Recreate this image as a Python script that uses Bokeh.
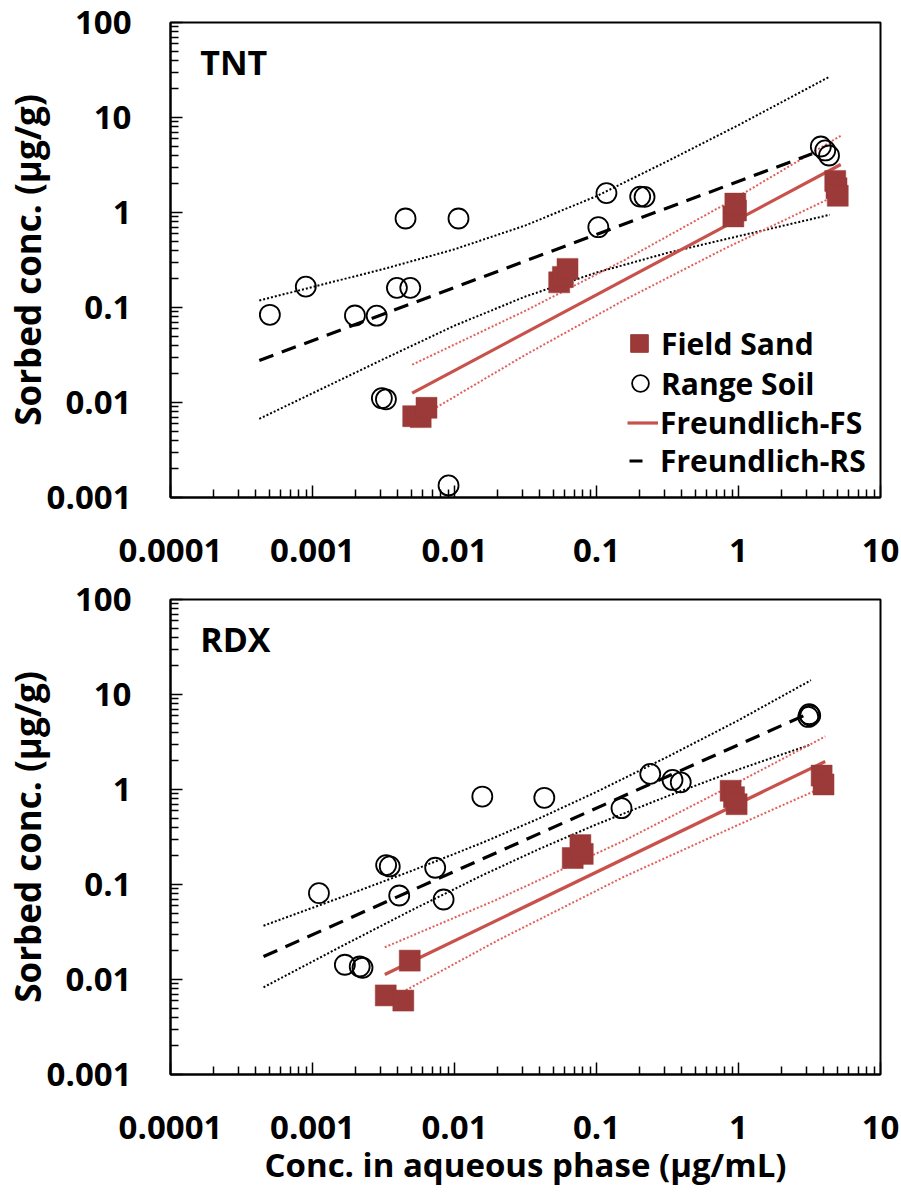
from bokeh.plotting import figure
from bokeh.layouts import column
from bokeh.models import FixedTicker, CustomJSTickFormatter, Legend, LegendItem, Label
from bokeh.embed import file_html
from bokeh.resources import INLINE

# ---------------- data ----------------
x_tick_values = [0.0001, 0.001, 0.01, 0.1, 1, 10]
x_tick_labels = ["0.0001", "0.001", "0.01", "0.1", "1", "10"]
y_tick_values = [0.001, 0.01, 0.1, 1, 10, 100]
y_tick_labels = ["0.001", "0.01", "0.1", "1", "10", "100"]

# TNT panel
tnt_fs_x = [0.00512, 0.00578, 0.00635, 0.0546, 0.058, 0.0625, 0.92, 0.96, 0.95, 4.8, 4.9, 5.0]
tnt_fs_y = [0.00718, 0.00702, 0.00879, 0.184, 0.21, 0.255, 0.91, 1.05, 1.24, 2.15, 1.8, 1.5]
tnt_rs_x = [0.000501, 0.000897, 0.00199, 0.00283, 0.00393, 0.00488, 0.00452, 0.01067, 0.00308,
            0.00329, 0.00908, 0.103, 0.1175, 0.203, 0.218, 3.80, 4.08, 4.34]
tnt_rs_y = [0.0838, 0.166, 0.0824, 0.082, 0.161, 0.161, 0.865, 0.865, 0.0111,
            0.0108, 0.00134, 0.70, 1.60, 1.47, 1.46, 4.95, 4.5, 3.98]
tnt_fs_fit_x = [0.00503, 5.25]
tnt_fs_fit_y = [0.01253, 3.20]
tnt_fs_band_x = [0.005035, 0.03162, 0.1585, 0.7943, 5.248]
tnt_fs_up_y = [0.025, 0.0925, 0.3177, 1.208, 6.412]
tnt_fs_lo_y = [0.00628, 0.03177, 0.1208, 0.4150, 1.596]
tnt_rs_fit_x = [0.000422, 3.3]
tnt_rs_fit_y = [0.0277, 4.15]
tnt_rs_band_x = [0.000422, 0.00316, 0.01, 0.0316, 0.1, 0.316, 1.0, 4.4]
tnt_rs_up_y = [0.1186, 0.254, 0.410, 0.731, 1.486, 3.47, 8.32, 27.0]
tnt_rs_lo_y = [0.00673, 0.0286, 0.0644, 0.1306, 0.2333, 0.3758, 0.5636, 0.946]

# RDX panel
rdx_fs_x = [0.00328, 0.00436, 0.00484, 0.068, 0.080, 0.077, 0.88, 0.93, 0.97, 3.85, 3.97]
rdx_fs_y = [0.0068, 0.0060, 0.0158, 0.19, 0.21, 0.26, 0.97, 0.83, 0.70, 1.40, 1.13]
rdx_rs_x = [0.00111, 0.00330, 0.00350, 0.00731, 0.00408, 0.00838, 0.00169, 0.00215, 0.00225,
            0.0157, 0.0429, 0.150, 0.239, 0.343, 0.392, 3.10, 3.20, 3.15]
rdx_rs_y = [0.0811, 0.160, 0.155, 0.150, 0.0766, 0.0695, 0.0143, 0.0137, 0.0133,
            0.843, 0.818, 0.636, 1.46, 1.26, 1.19, 5.8, 6.0, 6.2]
rdx_fs_fit_x = [0.00323, 4.08]
rdx_fs_fit_y = [0.0113, 1.97]
rdx_fs_band_x = [0.003228, 0.01995, 0.1585, 1.0, 4.083]
rdx_fs_up_y = [0.02183, 0.0695, 0.2924, 1.199, 3.614]
rdx_fs_lo_y = [0.00585, 0.0256, 0.1219, 0.4256, 1.081]
rdx_rs_fit_x = [0.000452, 3.15]
rdx_rs_fit_y = [0.01745, 6.35]
rdx_rs_band_x = [0.000452, 0.001585, 0.005012, 0.01585, 0.03981, 0.1, 0.3162, 1.0, 3.236]
rdx_rs_up_y = [0.0368, 0.0731, 0.1396, 0.2767, 0.499, 0.944, 2.208, 5.358, 14.13]
rdx_rs_lo_y = [0.00828, 0.0222, 0.0538, 0.1259, 0.2377, 0.4295, 0.851, 1.626, 2.979]

legend_labels = ["Field Sand", "Range Soil", "Freundlich-FS", "Freundlich-RS"]
x_title = "Conc. in aqueous phase (µg/mL)"
y_title = "Sorbed conc. (µg/g)"

# ---------------- style ----------------
FONT = "Open Sans"
SQ = "#9B3A38"
RED = "#C9514C"
RED_DOT = "#E0605A"
NAN = float("nan")

x_minor = [m * 10.0 ** k for k in range(-4, 1) for m in range(2, 10)]
y_minor = [m * 10.0 ** k for k in range(-3, 2) for m in range(2, 10)]

FMT_CODE = """
let best = 0, bd = Infinity;
for (let i = 0; i < vals.length; i++) {
  const d = Math.abs(Math.log10(tick) - Math.log10(vals[i]));
  if (d < bd) { bd = d; best = i; }
}
return labs[best];
"""


def style_axis(ax):
    ax.axis_line_color = "black"
    ax.axis_line_width = 2
    ax.major_tick_in = 12
    ax.major_tick_out = 0
    ax.minor_tick_in = 8
    ax.minor_tick_out = 0
    ax.major_tick_line_color = "black"
    ax.minor_tick_line_color = "black"
    ax.major_tick_line_width = 1.5
    ax.minor_tick_line_width = 1.5
    ax.major_label_text_font = FONT
    ax.major_label_text_font_size = "33px"
    ax.major_label_text_font_style = "bold"
    ax.major_label_text_color = "black"
    ax.axis_label_text_font = FONT
    ax.axis_label_text_font_style = "bold"
    ax.axis_label_text_color = "black"


def one_legend(p, label, renderer, loc, gw, gh, standoff):
    leg = Legend(items=[LegendItem(label=label, renderers=[renderer])],
                 location=loc, orientation="vertical",
                 glyph_width=gw, glyph_height=gh, spacing=0, label_standoff=standoff,
                 padding=0, margin=0, border_line_color=None, background_fill_alpha=0,
                 label_text_font=FONT, label_text_font_size="30px", label_text_font_style="bold",
                 label_text_color="black", label_text_baseline="middle")
    p.add_layout(leg)


def make_panel(name, d, top, bottom, with_legend, with_xtitle):
    p = figure(frame_width=710, frame_height=475,
               x_axis_type="log", y_axis_type="log",
               x_range=(1e-4, 10), y_range=(1e-3, 100),
               min_border_left=168, min_border_right=22,
               min_border_top=top, min_border_bottom=bottom,
               output_backend="svg", toolbar_location=None)
    p.grid.visible = False
    p.outline_line_color = "black"
    p.outline_line_width = 2
    p.outline_line_alpha = 1
    p.background_fill_color = "white"
    p.border_fill_color = "white"

    xa, ya = p.xaxis[0], p.yaxis[0]
    xa.ticker = FixedTicker(ticks=x_tick_values, minor_ticks=x_minor)
    ya.ticker = FixedTicker(ticks=y_tick_values, minor_ticks=y_minor)
    xa.formatter = CustomJSTickFormatter(args=dict(vals=x_tick_values, labs=x_tick_labels), code=FMT_CODE)
    ya.formatter = CustomJSTickFormatter(args=dict(vals=y_tick_values, labs=y_tick_labels), code=FMT_CODE)
    style_axis(xa)
    style_axis(ya)
    xa.major_label_standoff = 41
    ya.major_label_standoff = 39
    ya.axis_label = y_title
    ya.axis_label_text_font_size = "35px"
    ya.axis_label_standoff = -7
    if with_xtitle:
        xa.axis_label = x_title
        xa.axis_label_text_font_size = "33px"
        xa.axis_label_standoff = 0

    # confidence bands
    p.line(d["rs_band_x"], d["rs_up_y"], line_color="black", line_width=2, line_dash="2 2")
    p.line(d["rs_band_x"], d["rs_lo_y"], line_color="black", line_width=2, line_dash="2 2")
    p.line(d["fs_band_x"], d["fs_up_y"], line_color=RED_DOT, line_width=2, line_dash="2 2")
    p.line(d["fs_band_x"], d["fs_lo_y"], line_color=RED_DOT, line_width=2, line_dash="2 2")
    # fits
    p.line(d["rs_fit_x"], d["rs_fit_y"], line_color="black", line_width=3.2, line_dash="15 9")
    p.line(d["fs_fit_x"], d["fs_fit_y"], line_color=RED, line_width=3.2)
    # data
    p.scatter(d["fs_x"], d["fs_y"], marker="square", size=21, fill_color=SQ, line_color=SQ, line_width=0.5)
    p.scatter(d["rs_x"], d["rs_y"], marker="circle", size=20, fill_color=None, line_color="black", line_width=1.8)

    p.add_layout(Label(x=1.62e-4, y=38.4, text=name, text_font=FONT, text_font_size="34px",
                       text_font_style="bold", text_color="black", text_baseline="alphabetic"))

    if with_legend:
        g1 = p.scatter([NAN], [NAN], marker="square", fill_color=SQ, line_color=SQ)
        g2 = p.scatter([NAN], [NAN], marker="circle", fill_color=None, line_color="black", line_width=1.8)
        g3 = p.line([NAN], [NAN], line_color=RED, line_width=3.2)
        g4 = p.line([NAN], [NAN], line_color="black", line_width=3.2, line_dash="0 2 13 40")
        one_legend(p, legend_labels[0], g1, (447, 132), 44, 44, 0)
        one_legend(p, legend_labels[1], g2, (449, 93), 42, 42, 0)
        one_legend(p, legend_labels[2], g3, (457, 54), 31, 39, 2)
        one_legend(p, legend_labels[3], g4, (457, 16), 31, 39, 2)
    return p


tnt = dict(fs_x=tnt_fs_x, fs_y=tnt_fs_y, rs_x=tnt_rs_x, rs_y=tnt_rs_y,
           fs_fit_x=tnt_fs_fit_x, fs_fit_y=tnt_fs_fit_y, fs_band_x=tnt_fs_band_x,
           fs_up_y=tnt_fs_up_y, fs_lo_y=tnt_fs_lo_y, rs_fit_x=tnt_rs_fit_x, rs_fit_y=tnt_rs_fit_y,
           rs_band_x=tnt_rs_band_x, rs_up_y=tnt_rs_up_y, rs_lo_y=tnt_rs_lo_y)
rdx = dict(fs_x=rdx_fs_x, fs_y=rdx_fs_y, rs_x=rdx_rs_x, rs_y=rdx_rs_y,
           fs_fit_x=rdx_fs_fit_x, fs_fit_y=rdx_fs_fit_y, fs_band_x=rdx_fs_band_x,
           fs_up_y=rdx_fs_up_y, fs_lo_y=rdx_fs_lo_y, rs_fit_x=rdx_rs_fit_x, rs_fit_y=rdx_rs_fit_y,
           rs_band_x=rdx_rs_band_x, rs_up_y=rdx_rs_up_y, rs_lo_y=rdx_rs_lo_y)

p1 = make_panel("TNT", tnt, 22, 80, True, False)
p2 = make_panel("RDX", rdx, 22, 115, False, True)

layout = column(p1, p2)
open("out.html", "w").write(file_html(layout, INLINE))
